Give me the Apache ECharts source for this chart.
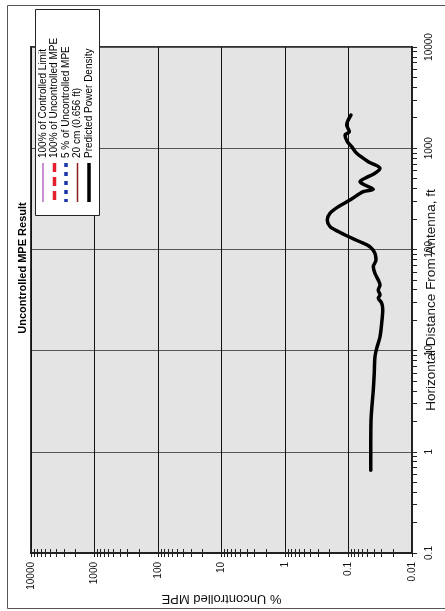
<!DOCTYPE html>
<html>
<head>
<meta charset="utf-8">
<script src="https://cdn.jsdelivr.net/npm/echarts@6/dist/echarts.min.js"></script>
<style>
html,body{margin:0;padding:0;background:#fff;}
#chart{width:445px;height:611px;}
</style>
</head>
<body>
<div id="chart"></div>
<script>
// ---- data ----
var distanceFt = [0.656, 1.04, 1.93, 2.59, 4.08, 6.0, 8.7, 10.5, 13.7, 18.7, 25.2, 29.5, 33.1, 35.4, 39.7, 44.5, 49.9, 58, 67.5, 78.5, 91.4, 106, 119, 134, 150, 168, 195, 228, 264, 308, 372, 393, 432, 467, 505, 565, 632, 736, 891, 1035, 1159, 1349, 1455, 1694, 2128];
var percentMPE = [0.0446, 0.0446, 0.0443, 0.0432, 0.0407, 0.0393, 0.0383, 0.036, 0.0319, 0.030, 0.0289, 0.030, 0.034, 0.0319, 0.034, 0.0319, 0.034, 0.0383, 0.0407, 0.0369, 0.0383, 0.0458, 0.0659, 0.1007, 0.145, 0.195, 0.216, 0.195, 0.145, 0.0946, 0.0585, 0.0407, 0.055, 0.0659, 0.055, 0.0383, 0.0319, 0.0488, 0.0743, 0.0891, 0.1045, 0.1135, 0.097, 0.1067, 0.0914];
var pctTicks = [0.01, 0.1, 1, 10, 100, 1000, 10000];
var pctTickLabels = ['0.01', '0.1', '1', '10', '100', '1000', '10000'];
var distTicks = [0.1, 1, 10, 100, 1000, 10000];
var distTickLabels = ['0.1', '1', '10', '100', '1000', '10000'];
var legendNames = ['100% of Controlled Limit', '100% of Uncontrolled MPE', '5 % of Uncontrolled MPE', '20 cm (0.656 ft)', 'Predicted Power Density'];
var titleText = 'Uncontrolled MPE Result';
var xName = '% Uncontrolled MPE';
var yName = 'Horizontal Distance From Antenna, ft';

// ---- helpers ----
function logTicksWithMinor(majors) {
  var out = [];
  for (var i = 0; i < majors.length; i++) {
    out.push(majors[i]);
    if (i < majors.length - 1) {
      for (var k = 2; k <= 9; k++) out.push(+(majors[i] * k).toPrecision(3));
    }
  }
  return out;
}
function labelFor(ticks, labels) {
  return function (v) {
    for (var i = 0; i < ticks.length; i++) {
      if (Math.abs(Math.log10(v) - Math.log10(ticks[i])) < 1e-6) return labels[i];
    }
    return '';
  };
}
var pctAllTicks = logTicksWithMinor(pctTicks);
var distAllTicks = logTicksWithMinor(distTicks);

var seriesData = distanceFt.map(function (d, i) { return [percentMPE[i], d]; });

var FONT = '"Liberation Sans", Arial, sans-serif';
var chart = echarts.init(document.getElementById('chart'), null, {renderer: 'canvas'});

// legend drawn with rotated graphics (chart is shown rotated on the page)
var legendStyles = [
  {color: '#c98fd0', width: 2, dash: null},
  {color: '#e3202c', width: 3.5, dash: [9, 5]},
  {color: '#1a35a8', width: 3.5, dash: [4, 5]},
  {color: '#8c1c1c', width: 1.5, dash: null},
  {color: '#000000', width: 3.5, dash: null}
];
var graphics = [
  {type: 'rect', z: -10, silent: true, shape: {x: 7.5, y: 5.5, width: 470, height: 603},
   style: {fill: 'none', stroke: '#555', lineWidth: 1}},
  {type: 'text', z: 100, x: 23, y: 268, rotation: Math.PI / 2,
   style: {text: titleText, font: 'bold 11px ' + FONT, fill: '#000', align: 'center', verticalAlign: 'middle', textAlign: 'center', textVerticalAlign: 'middle'}},
  {type: 'rect', z: 100, shape: {x: 35.5, y: 9.5, width: 64, height: 206},
   style: {fill: '#ffffff', stroke: '#222', lineWidth: 1}}
];
legendNames.forEach(function (name, i) {
  var cx = 43 + i * 11.5;
  var st = legendStyles[i];
  graphics.push({type: 'line', z: 101, shape: {x1: cx, y1: 163, x2: cx, y2: 202},
    style: {stroke: st.color, lineWidth: st.width, lineDash: st.dash}});
  graphics.push({type: 'text', z: 101, x: cx, y: 158, rotation: Math.PI / 2,
    style: {text: name, font: '10px ' + FONT, fill: '#000', align: 'left', verticalAlign: 'middle', textAlign: 'left', textVerticalAlign: 'middle'}});
});

var pctBase = {type: 'log', logBase: 10, min: 0.01, max: 10000, inverse: true, position: 'bottom', gridIndex: 0};
var distBase = {type: 'log', logBase: 10, min: 0.1, max: 10000, position: 'right', gridIndex: 0};

var option = {
  animation: false,
  textStyle: {fontFamily: FONT},
  grid: {left: 31, right: 33, top: 47, bottom: 58, show: true, backgroundColor: '#e4e4e4',
         borderColor: '#333', borderWidth: 2, containLabel: false, outerBoundsMode: 'none'},
  xAxis: [
    Object.assign({}, pctBase, {
      interval: 1,
      axisLine: {show: true, lineStyle: {color: '#222', width: 2}},
      axisTick: {show: false},
      axisLabel: {show: true, rotate: 90, margin: 9, fontSize: 10, color: '#111', fontFamily: FONT,
                  customValues: pctTicks, formatter: labelFor(pctTicks, pctTickLabels)},
      splitLine: {show: true, lineStyle: {color: '#111', width: 1}},
      name: xName, nameLocation: 'middle', nameGap: 39, nameRotate: 180, nameMoveOverlap: false,
      nameTextStyle: {fontSize: 13, color: '#111', fontFamily: FONT}
    }),
    Object.assign({}, pctBase, {
      axisLine: {show: false}, axisLabel: {show: false}, splitLine: {show: false},
      axisTick: {show: true, inside: false, length: 4, customValues: pctAllTicks, lineStyle: {color: '#222', width: 1}}
    }),
    Object.assign({}, pctBase, {
      axisLine: {show: false}, axisLabel: {show: false}, splitLine: {show: false},
      axisTick: {show: true, inside: true, length: 4, customValues: pctAllTicks, lineStyle: {color: '#222', width: 1}}
    })
  ],
  yAxis: [
    Object.assign({}, distBase, {
      interval: 1,
      axisLine: {show: true, lineStyle: {color: '#222', width: 2}},
      axisTick: {show: false},
      axisLabel: {show: true, rotate: 90, margin: 12, fontSize: 10, color: '#111', fontFamily: FONT,
                  customValues: distTicks, formatter: labelFor(distTicks, distTickLabels)},
      splitLine: {show: true, lineStyle: {color: '#555', width: 1}},
      name: yName, nameLocation: 'middle', nameGap: 12, nameRotate: 90, nameMoveOverlap: false,
      nameTextStyle: {fontSize: 13.5, color: '#111', fontFamily: FONT}
    }),
    Object.assign({}, distBase, {
      axisLine: {show: false}, axisLabel: {show: false}, splitLine: {show: false},
      axisTick: {show: true, inside: false, length: 5, customValues: distAllTicks, lineStyle: {color: '#222', width: 1}}
    })
  ],
  graphic: graphics,
  series: [{
    name: legendNames[4], type: 'line', xAxisIndex: 0, yAxisIndex: 0,
    data: seriesData, showSymbol: false, symbol: 'none', smooth: 0.3,
    lineStyle: {color: '#000', width: 3.5, cap: 'round', join: 'round'}, z: 5
  }]
};
chart.setOption(option);
</script>
</body>
</html>
